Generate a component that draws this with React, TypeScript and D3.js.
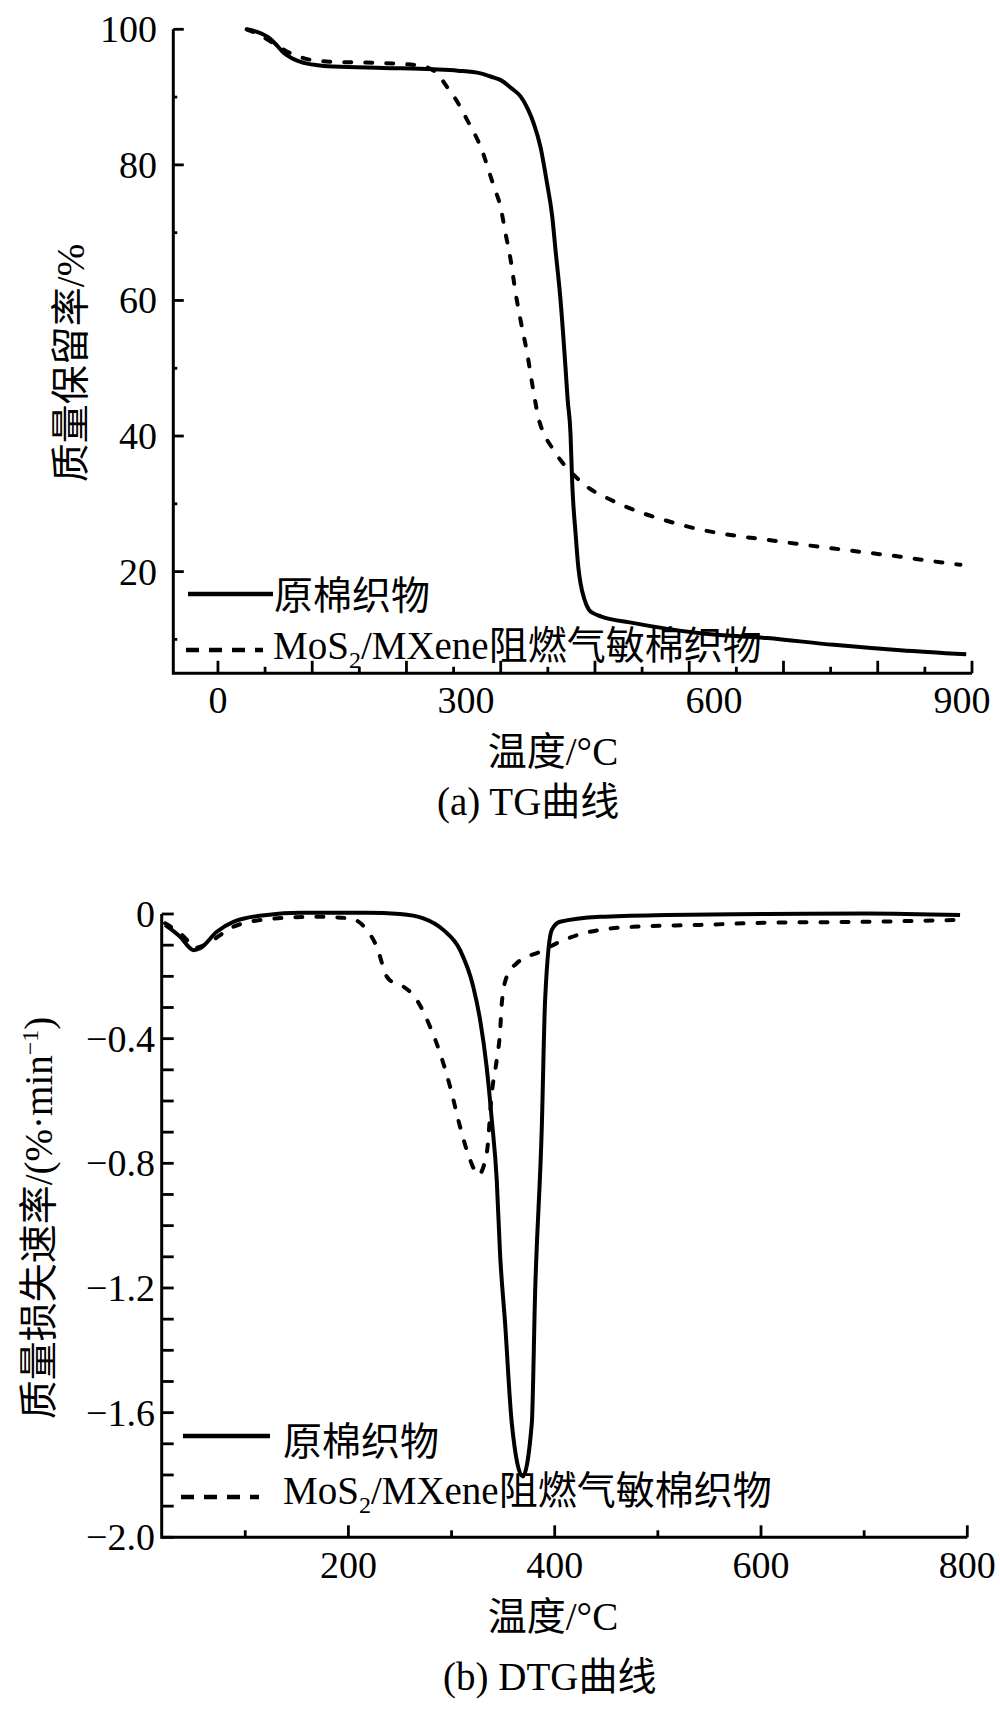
import { useEffect, useRef } from 'react';
import * as d3 from 'd3';

type Pt = [number, number];

// TG: temperature (°C) vs mass retention (%)
const tgCotton: Pt[] = [
  [34.7, 100], [45, 99.7], [59.7, 98.9], [70, 97.8], [79.8, 96.5], [90, 95.7], [100, 95.2],
  [120, 94.7], [140, 94.5], [200, 94.3], [261, 94.1], [290, 93.9], [317.6, 93.5], [333, 92.9],
  [342, 92.5], [355, 91.3], [366, 90.1], [375, 88.2], [382, 86.1], [390, 82.7], [398, 77.3],
  [404.3, 72.4], [408.3, 67.4], [414.3, 60.1], [420.3, 50.2], [423, 45.3], [426.4, 40.4],
  [428.5, 33.0], [432.5, 25.7], [436, 20.5], [438.5, 18.3], [443, 16], [448.6, 14.4],
  [455, 13.8], [463, 13.4], [503, 12.4], [583.6, 10.9], [664, 10.2], [744.8, 9.2],
  [825.4, 8.4], [905, 7.8],
];
const tgTreated: Pt[] = [
  [34.7, 100], [50, 99.2], [67.7, 97.9], [84, 96.7], [112, 95.5], [140, 95.2], [180, 95.1],
  [241, 94.7], [255, 94.3], [265, 93.5], [277, 91.5], [290, 89.2], [301.5, 86.6], [317.6, 82.7],
  [333.7, 76.8], [341.8, 73.8], [347.8, 69.9], [354, 66], [360, 61.1], [366, 57.1], [374, 52.2],
  [382, 46.3], [388, 42.5], [394, 40.4], [404, 38.3], [414, 36.5], [430, 34.3], [446.6, 32.5],
  [475, 30.6], [503, 29.1], [540, 27.6], [583.6, 26.2], [620, 25.4], [664, 24.7], [700, 24.1],
  [744.8, 23.4], [785, 22.8], [825.4, 22.2], [860, 21.6], [898, 21.0],
];

// DTG: temperature (°C) vs mass loss rate (%/min)
const dtgCotton: Pt[] = [
  [22.3, -0.035], [36.9, -0.073], [49.8, -0.116], [56.3, -0.11], [72.4, -0.057], [88.5, -0.025],
  [120.9, -0.003], [153, 0.004], [217.8, 0.004], [250, 0], [272.7, -0.014], [292, -0.051],
  [308.3, -0.116], [321, -0.233], [327.7, -0.34], [334, -0.49], [339, -0.66], [343.8, -0.853],
  [347, -1.089], [351.9, -1.313], [358.4, -1.634], [369, -1.805], [377.8, -1.634], [381, -1.217],
  [387.5, -0.683], [390.7, -0.276], [397.2, -0.051], [405.2, -0.025], [444, -0.009],
  [508.6, -0.003], [605.5, 0], [702.5, 0.002], [793, -0.003],
];
const dtgTreated: Pt[] = [
  [22.3, -0.03], [43.4, -0.083], [50, -0.11], [60, -0.1], [88.5, -0.041], [121, -0.017],
  [169.4, -0.009], [201.6, -0.014], [217.8, -0.051], [227.5, -0.105], [237.2, -0.201],
  [245, -0.222], [253.3, -0.233], [266.3, -0.276], [279.2, -0.362], [288.9, -0.447],
  [298.6, -0.554], [308.3, -0.683], [318, -0.789], [326, -0.837], [334.1, -0.768], [339, -0.575],
  [343.8, -0.468], [347, -0.38], [348.7, -0.287], [353.5, -0.201], [363.2, -0.158],
  [385.8, -0.121], [405.2, -0.089], [427.8, -0.062], [476.2, -0.041], [540.9, -0.035],
  [605.5, -0.028], [702.5, -0.025], [789.7, -0.019],
];

const tgXLabels = [0, 300, 600, 900];
const tgXMajor = d3.range(0, 913, 114);
const tgXMinor = d3.range(57, 913, 114);
const tgYLabels = [20, 40, 60, 80, 100];
const tgYMinor = [10, 30, 50, 70, 90];

const dtgXLabels = [200, 400, 600, 800];
const dtgXMinor = [100, 300, 500, 700];
const dtgYLabels = [0, -0.4, -0.8, -1.2, -1.6, -2.0];
const dtgYMinor = [-0.1, -0.2, -0.3, -0.5, -0.6, -0.7, -0.9, -1.0, -1.1, -1.3, -1.4, -1.5, -1.7, -1.8, -1.9];

const FONT = "'Liberation Serif','Times New Roman','Noto Sans CJK SC',serif";

interface PanelOpts {
  x: d3.ScaleLinear<number, number>;
  y: d3.ScaleLinear<number, number>;
  xMajor: number[]; xMinor: number[]; xMajorLen: number; xMinorLen: number;
  xLabels: number[]; xLabelBase: number;
  yMajor: number[]; yMinor: number[]; yMajorLen: number; yMinorLen: number;
  yLabels: number[]; yLabelRight: number; fmt: (v: number) => string;
  cotton: Pt[]; treated: Pt[];
  legend: { x0: number; x1: number; x2: number; tx: number; y1: number; b1: number; y2: number; b2: number; tx2: number };
  yTitle: { x: number; y: number; sup: boolean; text: string; tail: string };
  xTitleBase: number;
  caption: { text: string; x: number; base: number };
}

function drawPanel(svg: d3.Selection<SVGSVGElement, unknown, null, undefined>, o: PanelOpts) {
  const g = svg.append('g');
  const [x0, x1] = o.x.range();
  const [yb, yt] = o.y.range();

  // curves
  const line = d3.line<Pt>()
    .x(d => o.x(d[0]))
    .y(d => o.y(d[1]))
    .curve(d3.curveMonotoneX);

  g.append('path')
    .attr('d', line(o.treated))
    .attr('fill', 'none')
    .attr('stroke', '#000')
    .attr('stroke-width', 4)
    .attr('stroke-linecap', 'round')
    .attr('stroke-dasharray', '7 14');

  g.append('path')
    .attr('d', line(o.cotton))
    .attr('fill', 'none')
    .attr('stroke', '#000')
    .attr('stroke-width', 4)
    .attr('stroke-linejoin', 'round');

  // axes
  g.append('path')
    .attr('d', `M${x0},${yt}V${yb}H${x1}`)
    .attr('fill', 'none')
    .attr('stroke', '#000')
    .attr('stroke-width', 3);

  const ticks = g.append('g').attr('stroke', '#000').attr('stroke-width', 2.8);
  o.xMajor.forEach(v => ticks.append('line')
    .attr('x1', o.x(v)).attr('x2', o.x(v)).attr('y1', yb).attr('y2', yb - o.xMajorLen));
  o.xMinor.forEach(v => ticks.append('line')
    .attr('x1', o.x(v)).attr('x2', o.x(v)).attr('y1', yb).attr('y2', yb - o.xMinorLen));
  o.yMajor.forEach(v => ticks.append('line')
    .attr('x1', x0).attr('x2', x0 + o.yMajorLen).attr('y1', o.y(v)).attr('y2', o.y(v)));
  o.yMinor.forEach(v => ticks.append('line')
    .attr('x1', x0).attr('x2', x0 + o.yMinorLen).attr('y1', o.y(v)).attr('y2', o.y(v)));

  const txt = g.append('g')
    .attr('font-family', FONT)
    .attr('fill', '#000');

  o.xLabels.forEach(v => txt.append('text')
    .attr('x', o.x(v)).attr('y', o.xLabelBase)
    .attr('text-anchor', 'middle')
    .attr('font-size', 38)
    .text(String(v)));

  o.yLabels.forEach(v => txt.append('text')
    .attr('x', o.yLabelRight).attr('y', o.y(v) + 13)
    .attr('text-anchor', 'end')
    .attr('font-size', 38)
    .text(o.fmt(v)));

  // legend
  const lg = g.append('g');
  lg.append('line')
    .attr('x1', o.legend.x0).attr('x2', o.legend.x1)
    .attr('y1', o.legend.y1).attr('y2', o.legend.y1)
    .attr('stroke', '#000').attr('stroke-width', 4.5);
  lg.append('line')
    .attr('x1', o.legend.x0 - 2).attr('x2', o.legend.x2)
    .attr('y1', o.legend.y2).attr('y2', o.legend.y2)
    .attr('stroke', '#000').attr('stroke-width', 4.5)
    .attr('stroke-dasharray', '13 10');

  txt.append('text')
    .attr('x', o.legend.tx).attr('y', o.legend.b1)
    .attr('font-size', 39)
    .text('原棉织物');

  const t2 = txt.append('text')
    .attr('x', o.legend.tx2).attr('y', o.legend.b2)
    .attr('font-size', 39);
  t2.append('tspan').text('MoS');
  t2.append('tspan').attr('font-size', 24).attr('dy', 9).text('2');
  t2.append('tspan').attr('dy', -9).text('/MXene阻燃气敏棉织物');

  // y title
  const yt2 = txt.append('text')
    .attr('transform', `translate(${o.yTitle.x},${o.yTitle.y}) rotate(-90)`)
    .attr('text-anchor', 'middle')
    .attr('font-size', 39);
  yt2.append('tspan').text(o.yTitle.text);
  if (o.yTitle.sup) {
    yt2.append('tspan').attr('font-size', 24).attr('dy', -14).text('−1');
    yt2.append('tspan').attr('dy', 14).text(o.yTitle.tail);
  }

  // x title + caption
  txt.append('text')
    .attr('x', 553).attr('y', o.xTitleBase)
    .attr('text-anchor', 'middle')
    .attr('font-size', 39)
    .text('温度/°C');

  txt.append('text')
    .attr('x', o.caption.x).attr('y', o.caption.base)
    .attr('font-size', 39)
    .text(o.caption.text);
}

export default function App() {
  const svgRef = useRef<SVGSVGElement>(null);

  useEffect(() => {
    if (!svgRef.current) return;
    const svg = d3.select(svgRef.current);
    svg.selectAll('*').remove();

    const fmtInt = (v: number) => String(v);
    const fmtDec = (v: number) => (v === 0 ? '0' : (v < 0 ? '−' : '') + Math.abs(v).toFixed(1));

    drawPanel(svg, {
      x: d3.scaleLinear().domain([-54, 912]).range([173.3, 972]),
      y: d3.scaleLinear().domain([5, 100]).range([673.3, 29.3]),
      xMajor: tgXMajor, xMinor: tgXMinor, xMajorLen: 12.5, xMinorLen: 6.5,
      xLabels: tgXLabels, xLabelBase: 713,
      yMajor: tgYLabels, yMinor: tgYMinor, yMajorLen: 10.5, yMinorLen: 4,
      yLabels: tgYLabels, yLabelRight: 157, fmt: fmtInt,
      cotton: tgCotton, treated: tgTreated,
      legend: { x0: 188, x1: 273, x2: 263, tx: 274, y1: 594, b1: 609, y2: 650, b2: 659, tx2: 273 },
      yTitle: { x: 84, y: 363, sup: false, text: '质量保留率/%', tail: '' },
      xTitleBase: 765,
      caption: { text: '(a) TG曲线', x: 437, base: 815 },
    });

    drawPanel(svg, {
      x: d3.scaleLinear().domain([19, 800]).range([161.7, 967.3]),
      y: d3.scaleLinear().domain([-2, 0]).range([1537.3, 914]),
      xMajor: dtgXLabels, xMinor: dtgXMinor, xMajorLen: 12, xMinorLen: 7,
      xLabels: dtgXLabels, xLabelBase: 1578,
      yMajor: dtgYLabels, yMinor: dtgYMinor, yMajorLen: 12, yMinorLen: 12,
      yLabels: dtgYLabels, yLabelRight: 155, fmt: fmtDec,
      cotton: dtgCotton, treated: dtgTreated,
      legend: { x0: 183, x1: 270, x2: 259, tx: 283, y1: 1436, b1: 1455, y2: 1497, b2: 1504, tx2: 283 },
      yTitle: { x: 52, y: 1218, sup: true, text: '质量损失速率/(%·min', tail: ')' },
      xTitleBase: 1630,
      caption: { text: '(b) DTG曲线', x: 443, base: 1690 },
    });
  }, []);

  return (
    <svg
      ref={svgRef}
      width={1000}
      height={1728}
      style={{ position: 'absolute', left: 0, top: 0, background: '#fff' }}
    />
  );
}
